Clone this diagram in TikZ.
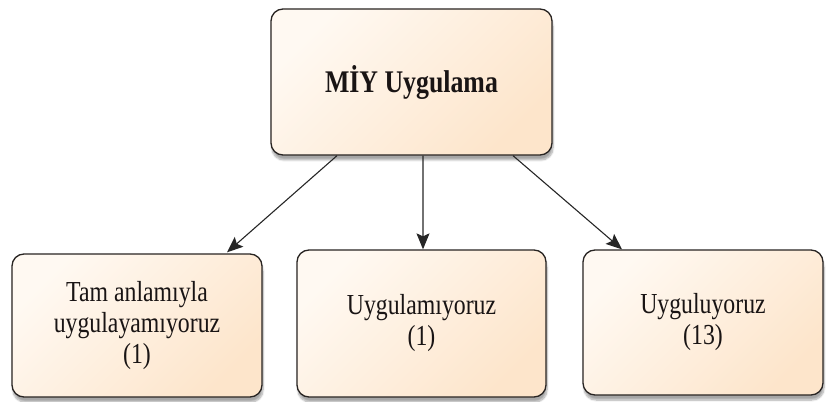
\documentclass[tikz,border=0pt]{standalone}
\usepackage{fontspec}
\setmainfont{Liberation Serif}
\newfontfamily\narrowserif[FakeStretch=0.82]{Liberation Serif}
\usetikzlibrary{arrows.meta,shadows.blur}
\definecolor{peachlight}{RGB}{255,249,242}
\definecolor{peachdark}{RGB}{253,229,203}
\definecolor{boxline}{RGB}{40,36,34}
\definecolor{textdark}{RGB}{25,20,20}
\tikzset{
  x=1bp, y=1bp,
  card/.style={draw=boxline, line width=1.3bp, rounded corners=12bp,
    top color=peachlight, bottom color=peachdark, shading angle=45,
    blur shadow={shadow xshift=1bp, shadow yshift=-5bp, shadow blur steps=8, shadow opacity=35},
    align=center, text=textdark, inner sep=0pt,
    font=\narrowserif\fontsize{29bp}{31bp}\selectfont},
  link/.style={draw=black!85, line width=1.1bp, -{Stealth[length=16bp,width=13bp,inset=3bp]}}
}
\begin{document}
\begin{tikzpicture}
\useasboundingbox (0,0) rectangle (827,401);
\node[card, minimum width=281bp, minimum height=146bp,
      font=\narrowserif\bfseries\fontsize{31.5bp}{34bp}\selectfont]
  (top) at (411.5,319) {MİY Uygulama};
\node[card, minimum width=250bp, minimum height=143bp]
  (left) at (137,75.5) {Tam anlamıyla\\uygulayamıyoruz\\(1)};
\node[card, minimum width=249bp, minimum height=147bp]
  (mid) at (421.5,77.5) {Uygulamıyoruz\\(1)};
\node[card, minimum width=240bp, minimum height=145bp]
  (right) at (703,78.5) {Uyguluyoruz\\(13)};
\draw[link] ([xshift=-74.5bp]top.south) -- ([xshift=90bp,yshift=1bp]left.north);
\draw[link] ([xshift=11.5bp]top.south) -- ([xshift=1.5bp]mid.north);
\draw[link] ([xshift=101.5bp]top.south) -- ([xshift=-81bp]right.north);
\end{tikzpicture}
\end{document}
